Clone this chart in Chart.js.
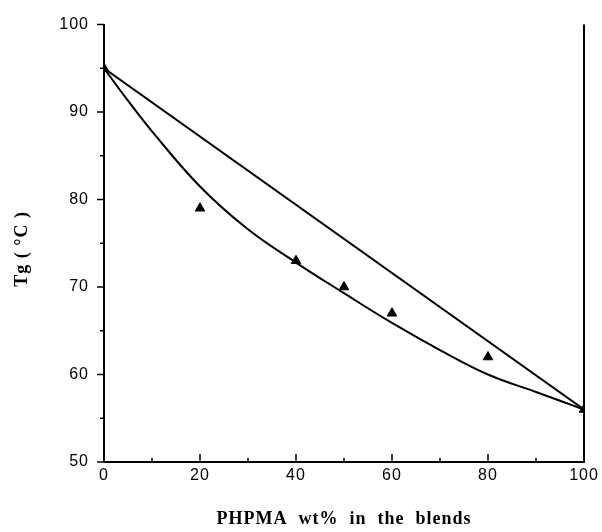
<!DOCTYPE html>
<html lang="en">
<head>
<meta charset="UTF-8">
<title>Tg of PHPMA blends</title>
<style>
  html, body { margin: 0; padding: 0; background: #fff; }
  #wrap { width: 602px; height: 532px; }
</style>
</head>
<body>
<div id="wrap"><canvas id="myChart" width="602" height="532"></canvas></div>

<script src="https://cdn.jsdelivr.net/npm/chart.js"></script>
<script>
  // measured Tg of the blends (PHPMA wt%, deg C)
  const measuredX = [0, 20, 40, 50, 60, 80, 100];
  const measuredY = [95, 79, 73, 70, 67, 62, 56];

  // fitted curve
  const curveX = [0, 5, 10, 20, 30, 40, 50, 60, 70, 80, 90, 100];
  const curveY = [95, 91.3, 87.8, 81.5, 76.6, 72.8, 69.3, 65.9, 62.8, 60.0, 58.0, 56];

  // straight line between the two pure polymers
  const lineX = [0, 100];
  const lineY = [95, 56];

  // tick values
  const xMajor = [0, 20, 40, 60, 80, 100];
  const xMinor = [10, 30, 50, 70, 90];
  const yMajor = [50, 60, 70, 80, 90, 100];
  const yMinor = [55, 65, 75, 85, 95];

  const toPoints = (xs, ys) => xs.map((v, i) => ({x: v, y: ys[i]}));

  // right border + all tick marks (x ticks point inwards, y ticks outwards)
  const frame = {
    id: 'frame',
    beforeDraw(chart) {
      chart.ctx.letterSpacing = '1px';
    },
    afterDraw(chart) {
      const {ctx, chartArea: a, scales: {x, y}} = chart;
      ctx.save();
      ctx.letterSpacing = '0px';
      ctx.strokeStyle = '#000';
      ctx.lineWidth = 2;
      ctx.beginPath();
      ctx.moveTo(a.right, a.top);
      ctx.lineTo(a.right, a.bottom + 1);
      ctx.stroke();

      ctx.lineWidth = 1.5;
      ctx.beginPath();
      xMajor.forEach(v => {
        const p = x.getPixelForValue(v);
        ctx.moveTo(p, a.bottom);
        ctx.lineTo(p, a.bottom - 8);
      });
      xMinor.forEach(v => {
        const p = x.getPixelForValue(v);
        ctx.moveTo(p, a.bottom);
        ctx.lineTo(p, a.bottom - 4);
      });
      yMajor.forEach(v => {
        const p = y.getPixelForValue(v);
        ctx.moveTo(a.left, p);
        ctx.lineTo(a.left - 7, p);
      });
      yMinor.forEach(v => {
        const p = y.getPixelForValue(v);
        ctx.moveTo(a.left, p);
        ctx.lineTo(a.left - 4, p);
      });
      ctx.stroke();
      ctx.restore();
      ctx.letterSpacing = '0px';
    }
  };

  const ctx = document.getElementById('myChart');

  const chart = new Chart(ctx, {
    type: 'scatter',
    data: {
      datasets: [
        {
          label: 'linear',
          data: toPoints(lineX, lineY),
          showLine: true,
          borderColor: '#000',
          borderWidth: 2,
          pointRadius: 0,
          fill: false
        },
        {
          label: 'fit',
          data: toPoints(curveX, curveY),
          showLine: true,
          borderColor: '#000',
          borderWidth: 2,
          pointRadius: 0,
          fill: false,
          tension: 0.4
        },
        {
          label: 'measured',
          data: toPoints(measuredX, measuredY),
          showLine: false,
          pointStyle: 'triangle',
          pointRadius: 5.5,
          backgroundColor: '#000',
          borderColor: '#000',
          borderWidth: 1
        }
      ]
    },
    options: {
      responsive: false,
      animation: false,
      layout: {
        padding: {top: 20, right: 18, bottom: 0, left: 0}
      },
      plugins: {
        legend: {display: false},
        tooltip: {enabled: false}
      },
      scales: {
        x: {
          type: 'linear',
          min: 0,
          max: 100,
          grid: {display: false, drawTicks: false},
          border: {display: true, color: '#000', width: 2},
          ticks: {
            stepSize: 20,
            color: '#000',
            padding: 4,
            font: {family: 'Liberation Sans', size: 16}
          },
          title: {
            display: true,
            text: 'PHPMA  wt%  in  the  blends',
            color: '#000',
            font: {family: 'Liberation Serif', size: 18, weight: 'bold'},
            padding: {top: 0, bottom: 2}
          },
          afterFit(scale) { scale.height = 70; }
        },
        y: {
          type: 'linear',
          min: 50,
          max: 100,
          grid: {display: false, drawTicks: false},
          border: {display: true, color: '#000', width: 2},
          ticks: {
            stepSize: 10,
            color: '#000',
            padding: 15,
            font: {family: 'Liberation Sans', size: 16}
          },
          title: {
            display: true,
            text: 'Tg ( °C )  ',
            color: '#000',
            font: {family: 'Liberation Serif', size: 18, weight: 'bold'},
            padding: {top: 12, bottom: 0}
          },
          afterFit(scale) { scale.width = 104; }
        }
      }
    },
    plugins: [frame]
  });
</script>
</body>
</html>
